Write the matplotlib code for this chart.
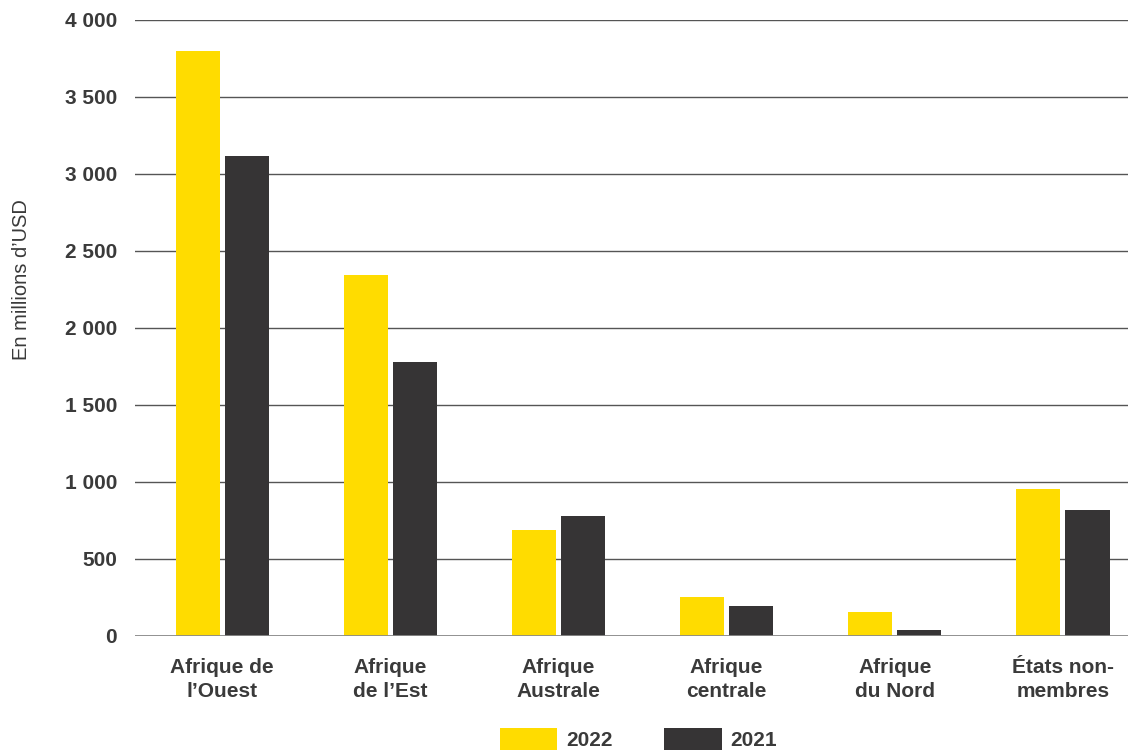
import numpy as np
import matplotlib.pyplot as plt
from matplotlib.ticker import FuncFormatter

plt.rcParams['font.family'] = ['Liberation Sans', 'DejaVu Sans']

regions = ["Afrique de\nl\u2019Ouest", "Afrique\nde l\u2019Est", "Afrique\nAustrale",
           "Afrique\ncentrale", "Afrique\ndu Nord", "\u00c9tats non-\nmembres"]
values_2022 = [3800, 2345, 690, 255, 158, 955]
values_2021 = [3120, 1780, 780, 195, 40, 818]

yellow = "#FFDC00"
dark = "#363435"
text_col = "#3a3a3a"

fig = plt.figure(figsize=(11.28, 7.54), dpi=100)
ax = fig.add_axes([0.1197, 0.1565, 0.8803, 0.817])

x = np.arange(len(regions))
w = 0.262
ax.bar(x - 0.146, values_2022, width=w, color=yellow, label="2022", zorder=3)
ax.bar(x + 0.146, values_2021, width=w, color=dark, label="2021", zorder=3)

ax.set_xlim(-0.518, 5.387)
ax.set_ylim(0, 4000)
ax.set_yticks(np.arange(0, 4001, 500))
ax.yaxis.set_major_formatter(FuncFormatter(lambda v, p: f"{int(v):,}".replace(",", " ")))
ax.grid(axis="y", color="#555555", linewidth=1, zorder=0)
ax.axhline(0, color="#8a8a8a", linewidth=2, zorder=4)

for s in ax.spines.values():
    s.set_visible(False)
ax.tick_params(length=0)
ax.tick_params(axis="y", pad=13, labelsize=15, labelcolor=text_col)
ax.tick_params(axis="x", pad=16, labelsize=15, labelcolor=text_col)
for lab in ax.get_yticklabels():
    lab.set_fontweight("bold")
ax.set_xticks(x)
ax.set_xticklabels(regions, fontweight="bold", linespacing=1.3)

fig.text(0.019, 0.629, "En millions d\u2019USD", rotation=90, fontsize=14.5,
         color=text_col, ha="center", va="center")

leg = fig.legend(loc="lower center", bbox_to_anchor=(0.566, -0.02), ncol=2,
                 frameon=False, handlelength=2.74, handleheight=1.25,
                 columnspacing=2.5, handletextpad=0.43,
                 prop={"weight": "bold", "size": 15})
for t in leg.get_texts():
    t.set_color(text_col)

fig.savefig("out.png", dpi=100)
